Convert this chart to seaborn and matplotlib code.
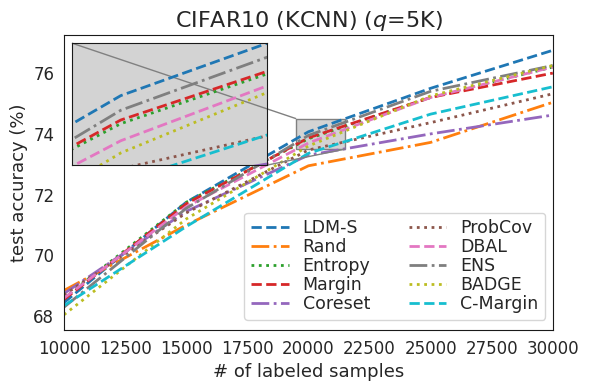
import numpy as np
import pandas as pd
import matplotlib
matplotlib.use("Agg")
import matplotlib.pyplot as plt
import seaborn as sns
from mpl_toolkits.axes_grid1.inset_locator import mark_inset

sns.set_style("white")

# === Data ===
n_labeled = [10000, 15000, 20000, 25000, 30000]
methods = ["LDM-S", "Rand", "Entropy", "Margin", "Coreset",
           "ProbCov", "DBAL", "ENS", "BADGE", "C-Margin"]
ldm_s = [68.45, 71.75, 74.07, 75.50, 76.75]
rand = [68.85, 71.00, 72.95, 73.72, 75.04]
entropy = [68.60, 71.75, 73.84, 75.20, 76.20]
margin = [68.55, 71.70, 73.87, 75.20, 76.00]
coreset = [68.75, 71.45, 73.30, 74.00, 74.62]
probcov = [68.70, 71.40, 73.47, 74.37, 75.32]
dbal = [68.60, 71.60, 73.70, 75.20, 76.20]
ens = [68.30, 71.55, 73.95, 75.40, 76.25]
badge = [68.05, 71.20, 73.60, 75.25, 76.25]
c_margin = [68.35, 70.95, 73.36, 74.65, 75.55]

acc = [ldm_s, rand, entropy, margin, coreset, probcov, dbal, ens, badge, c_margin]
styles = ["--", "-.", ":", "--", "-.", ":", "--", "-.", ":", "--"]
colors = sns.color_palette("tab10", 10)

df = pd.DataFrame({m: a for m, a in zip(methods, acc)})
df["n"] = n_labeled

fig = plt.figure(figsize=(5.9, 3.9), dpi=100)
ax = fig.add_axes([0.1085, 0.154, 0.8285, 0.756])

for m, ls, c in zip(methods, styles, colors):
    sns.lineplot(data=df, x="n", y=m, ax=ax, color=c, linestyle=ls, lw=2, label=m)

ax.set_xlim(10000, 30000)
ax.set_ylim(67.55, 77.25)
ax.set_xticks(np.arange(10000, 30001, 2500))
ax.set_yticks([68, 70, 72, 74, 76])
ax.tick_params(labelsize=12)
ax.set_xlabel("# of labeled samples", fontsize=13)
ax.set_ylabel("test accuracy (%)", fontsize=13)
ax.set_title("CIFAR10 (KCNN) ($q$=5K)", fontsize=16)
for s in ax.spines.values():
    s.set_color("0.1")

ax.legend(loc="lower right", ncol=2, fontsize=12.5, handlelength=2.15,
          handletextpad=0.8, columnspacing=2.2, labelspacing=0.05,
          borderpad=0.4, borderaxespad=0, bbox_to_anchor=(0.984, 0.034))

# === Inset zoom ===
axins = ax.inset_axes([0.0164, 0.559, 0.399, 0.4136])
for m, ls, c in zip(methods, styles, colors):
    sns.lineplot(data=df, x="n", y=m, ax=axins, color=c, linestyle=ls, lw=2, legend=False)
axins.set_xlim(19500, 21500)
axins.set_ylim(73.5, 74.5)
axins.set_facecolor("lightgray")
axins.set_xticks([])
axins.set_yticks([])
axins.set_xlabel("")
axins.set_ylabel("")
for s in axins.spines.values():
    s.set_color("0.1")
mark_inset(ax, axins, loc1=2, loc2=4, fc="lightgray", ec="0.5")

fig.savefig("out.png", dpi=100)
